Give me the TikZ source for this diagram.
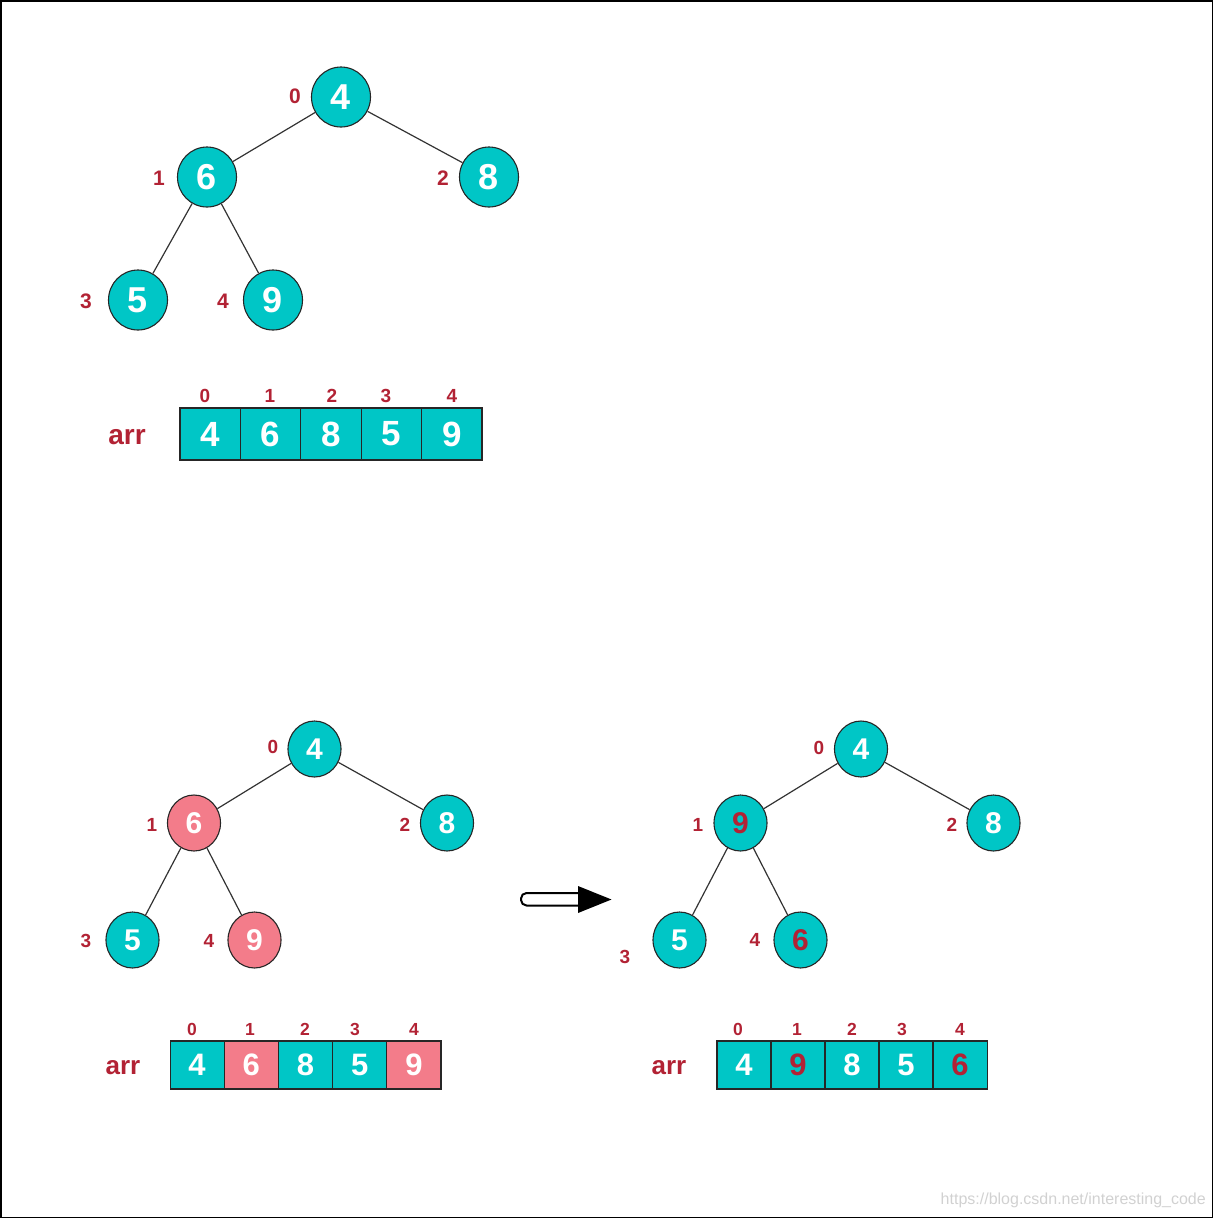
\documentclass[tikz,border=0pt]{standalone}
\usepackage{fontspec}
\setmainfont{Liberation Sans}
\usetikzlibrary{shapes.geometric}
\definecolor{tealfill}{RGB}{0,198,198}
\definecolor{pinkfill}{RGB}{243,124,138}
\definecolor{idxred}{RGB}{178,34,52}
\definecolor{edgegray}{RGB}{51,51,51}
\tikzset{
  heapnode/.style={ellipse, draw=black!85, line width=1.1pt, fill=tealfill, text=white, inner sep=0pt},
  bignode/.style={heapnode, minimum width=59pt, minimum height=60pt, font=\bfseries\fontsize{36}{36}\selectfont},
  smallnode/.style={heapnode, minimum width=53pt, minimum height=56pt, font=\bfseries\fontsize{30}{30}\selectfont},
  pinknode/.style={fill=pinkfill},
  reddigit/.style={text=idxred},
  bigidx/.style={text=idxred, font=\bfseries\fontsize{21}{21}\selectfont, inner sep=0pt},
  smallidx/.style={text=idxred, font=\bfseries\fontsize{19}{19}\selectfont, inner sep=0pt},
  arridx/.style={text=idxred, font=\bfseries\fontsize{19}{19}\selectfont, inner sep=0pt},
  arridxsmall/.style={text=idxred, font=\bfseries\fontsize{17.5}{17.5}\selectfont, inner sep=0pt},
  arrlabel/.style={text=idxred, font=\bfseries\fontsize{28}{28}\selectfont, inner sep=0pt},
  arrlabelsmall/.style={text=idxred, font=\bfseries\fontsize{26}{26}\selectfont, inner sep=0pt},
  bigcell/.style={rectangle, draw=black!85, line width=1.1pt, fill=tealfill, text=white, minimum width=60.4pt, minimum height=52pt, inner sep=0pt, font=\bfseries\fontsize{35}{35}\selectfont},
  smallcell/.style={rectangle, draw=black!85, line width=1.1pt, fill=tealfill, text=white, minimum width=54.1pt, minimum height=48pt, inner sep=0pt, font=\bfseries\fontsize{31}{31}\selectfont},
  edge/.style={draw=edgegray, line width=1.2pt},
}
\begin{document}
\begin{tikzpicture}[x=1pt, y=-1pt]
\useasboundingbox (0,0) rectangle (1215,1219);
\draw[line width=1.5pt, black] (0.75,0.75) rectangle (1212.5,1217.5);

% ---------- top tree ----------
\node[bignode] (a0) at (341,97) {4};
\node[bignode] (a1) at (207,177) {6};
\node[bignode] (a2) at (489,177) {8};
\node[bignode] (a3) at (138,300) {5};
\node[bignode] (a4) at (273,300) {9};
\draw[edge] (a0) -- (a1);
\draw[edge] (a0) -- (a2);
\draw[edge] (a1) -- (a3);
\draw[edge] (a1) -- (a4);
\node[bigidx] (ai0) at (295,96) {0};
\node[bigidx] (ai1) at (159,178) {1};
\node[bigidx] (ai2) at (443,178) {2};
\node[bigidx] (ai3) at (86,301) {3};
\node[bigidx] (ai4) at (223,301) {4};

% top array
\node[arrlabel] (aarr) at (127,437) {arr};
\node[bigcell] (ac0) at (210.2,434) {4};
\node[bigcell] (ac1) at (270.6,434) {6};
\node[bigcell] (ac2) at (331,434) {8};
\node[bigcell] (ac3) at (391.4,434) {5};
\node[bigcell] (ac4) at (451.8,434) {9};
\node[arridx] (aci0) at (205,396) {0};
\node[arridx] (aci1) at (270,396) {1};
\node[arridx] (aci2) at (332,396) {2};
\node[arridx] (aci3) at (386,396) {3};
\node[arridx] (aci4) at (452,396) {4};

% ---------- bottom-left tree ----------
\node[smallnode] (b0) at (314.5,749) {4};
\node[smallnode, pinknode] (b1) at (194,823) {6};
\node[smallnode] (b2) at (447,823) {8};
\node[smallnode] (b3) at (132.5,940) {5};
\node[smallnode, pinknode] (b4) at (254.5,940) {9};
\draw[edge] (b0) -- (b1);
\draw[edge] (b0) -- (b2);
\draw[edge] (b1) -- (b3);
\draw[edge] (b1) -- (b4);
\node[smallidx] (bi0) at (273,747) {0};
\node[smallidx] (bi1) at (152,825) {1};
\node[smallidx] (bi2) at (405,825) {2};
\node[smallidx] (bi3) at (86,941) {3};
\node[smallidx] (bi4) at (209,941) {4};

% bottom-left array
\node[arrlabelsmall] (barr) at (123,1068) {arr};
\node[smallcell] (bc0) at (197.1,1065) {4};
\node[smallcell, pinknode] (bc1) at (251.3,1065) {6};
\node[smallcell] (bc2) at (305.5,1065) {8};
\node[smallcell] (bc3) at (359.7,1065) {5};
\node[smallcell, pinknode] (bc4) at (413.9,1065) {9};
\node[arridxsmall] (bci0) at (192,1029) {0};
\node[arridxsmall] (bci1) at (250,1029) {1};
\node[arridxsmall] (bci2) at (305,1029) {2};
\node[arridxsmall] (bci3) at (355,1029) {3};
\node[arridxsmall] (bci4) at (414,1029) {4};

% ---------- arrow ----------
\draw[line width=2pt, black, fill=white, rounded corners=5.5pt] (521,893) rectangle (588,905.5);
\fill[black] (578,886) -- (611.5,899.5) -- (578,913) -- cycle;

% ---------- bottom-right tree ----------
\node[smallnode] (c0) at (861,749) {4};
\node[smallnode, reddigit] (c1) at (740.5,823) {9};
\node[smallnode] (c2) at (993.5,823) {8};
\node[smallnode] (c3) at (679.5,940) {5};
\node[smallnode, reddigit] (c4) at (800.5,940) {6};
\draw[edge] (c0) -- (c1);
\draw[edge] (c0) -- (c2);
\draw[edge] (c1) -- (c3);
\draw[edge] (c1) -- (c4);
\node[smallidx] (ci0) at (819,748) {0};
\node[smallidx] (ci1) at (698,825) {1};
\node[smallidx] (ci2) at (952,825) {2};
\node[smallidx] (ci3) at (625,957) {3};
\node[smallidx] (ci4) at (755,940) {4};

% bottom-right array
\node[arrlabelsmall] (carr) at (669,1068) {arr};
\node[smallcell] (cc0) at (744,1065) {4};
\node[smallcell, reddigit] (cc1) at (798,1065) {9};
\node[smallcell] (cc2) at (852,1065) {8};
\node[smallcell] (cc3) at (906,1065) {5};
\node[smallcell, reddigit] (cc4) at (960,1065) {6};
\node[arridxsmall] (cci0) at (738,1029) {0};
\node[arridxsmall] (cci1) at (797,1029) {1};
\node[arridxsmall] (cci2) at (852,1029) {2};
\node[arridxsmall] (cci3) at (902,1029) {3};
\node[arridxsmall] (cci4) at (960,1029) {4};

% watermark
\node[text=black!18, font=\fontsize{16}{16}\selectfont, inner sep=0pt, anchor=east] (wm) at (1206,1200) {https://blog.csdn.net/interesting\_code};
\end{tikzpicture}
\end{document}
